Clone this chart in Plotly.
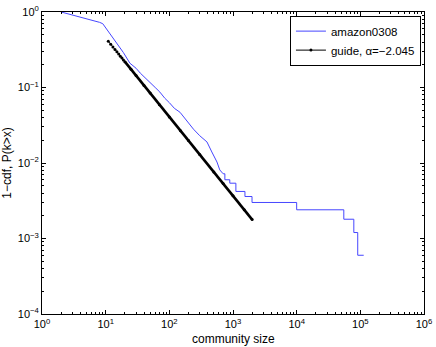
import plotly.graph_objects as go

# ----------------------------------------------------------------------------
# Données (CCDF des tailles de communautés, amazon0308)
# ----------------------------------------------------------------------------

amazon_x = [2, 3, 4, 5, 6, 7, 8, 9, 10, 12, 15, 19, 24, 30, 35, 42, 50, 60, 71,
            85, 100, 120, 147, 170, 195, 240, 300, 390, 465, 560, 620,
            700, 745, 745, 890, 890, 1110, 1110, 1540, 1540, 1990, 1990,
            10000, 10000, 55000, 55000, 79000, 79000, 91000, 91000, 113000]
amazon_y = [1.0, 0.916, 0.857, 0.815, 0.78, 0.757, 0.73, 0.70, 0.62, 0.49, 0.38,
            0.29, 0.21, 0.18, 0.155, 0.135, 0.118, 0.10, 0.087, 0.072, 0.063,
            0.053, 0.047, 0.040, 0.034, 0.028, 0.023, 0.019, 0.014, 0.0103,
            0.0081, 0.0072, 0.0072, 0.0060, 0.0060, 0.0054, 0.0054, 0.0042,
            0.0042, 0.0036, 0.0036, 0.0030, 0.0030, 0.0024, 0.0024, 0.0018,
            0.0018, 0.0012, 0.0012, 0.0006, 0.0006]

guide_x = [11, 12, 13, 14, 15, 16, 17, 18, 19, 20, 25, 30, 40, 50, 70, 100,
           150, 200, 300, 500, 700, 1000, 1500, 2000]
guide_y = [0.41, 0.374, 0.344, 0.319, 0.297, 0.277, 0.260, 0.245, 0.232, 0.220,
           0.174, 0.144, 0.106, 0.0843, 0.0593, 0.0408, 0.0267, 0.0198, 0.0130,
           0.00759, 0.00534, 0.00368, 0.00241, 0.00178]

x_ticks = [1, 10, 100, 1e3, 1e4, 1e5, 1e6]
x_labels = ["10<sup>0</sup>", "10<sup>1</sup>", "10<sup>2</sup>", "10<sup>3</sup>",
            "10<sup>4</sup>", "10<sup>5</sup>", "10<sup>6</sup>"]
y_ticks = [1e-4, 1e-3, 1e-2, 1e-1, 1]
y_labels = ["10<sup>\u22124</sup>", "10<sup>\u22123</sup>", "10<sup>\u22122</sup>",
            "10<sup>\u22121</sup>", "10<sup>0</sup>"]

FONT = "Liberation Sans, Arial, sans-serif"


def minor_ticks(lo, hi):
    return [m * 10 ** e for e in range(lo, hi) for m in range(2, 10)]


fig = go.Figure()

fig.add_trace(go.Scatter(
    x=amazon_x, y=amazon_y, mode="lines", name="amazon0308",
    line=dict(color="rgb(70,70,255)", width=1),
))

# trait épais de la droite guide (points très serrés dans l'original)
fig.add_trace(go.Scatter(
    x=guide_x[9:], y=guide_y[9:], mode="lines", showlegend=False,
    line=dict(color="black", width=2.6),
))
fig.add_trace(go.Scatter(
    x=guide_x, y=guide_y, mode="lines+markers", name="guide, \u03b1=\u22122.045",
    line=dict(color="black", width=1),
    marker=dict(color="black", size=3),
))

axis_common = dict(
    type="log", showgrid=False, zeroline=False, automargin=False,
    showline=True, linecolor="black", linewidth=1, mirror="ticks",
    ticks="inside", ticklen=4, tickcolor="black", tickmode="array",
    tickfont=dict(family=FONT, size=11, color="black"),
)

fig.update_xaxes(
    **axis_common, range=[0, 6], tickvals=x_ticks, ticktext=x_labels,
    minor=dict(ticks="inside", ticklen=2, tickcolor="black", tickvals=minor_ticks(0, 6)),
)
fig.update_yaxes(
    **axis_common, range=[-4, 0], tickvals=y_ticks, ticktext=y_labels,
    minor=dict(ticks="inside", ticklen=2, tickcolor="black", tickvals=minor_ticks(-4, 0)),
    title=dict(text="1\u2212cdf, P(k>x)", font=dict(family=FONT, size=12, color="black")),
)

fig.update_layout(
    width=436, height=347,
    margin=dict(l=42, r=12, t=12, b=33),
    paper_bgcolor="white", plot_bgcolor="white",
    font=dict(family=FONT, size=12, color="black"),
    legend=dict(
        x=0.992, y=0.988, xanchor="right", yanchor="top",
        bordercolor="black", borderwidth=1, bgcolor="white",
        font=dict(family=FONT, size=11.5, color="black"),
        tracegroupgap=0, itemwidth=30,
    ),
    # titre de l'axe x placé à la main
    annotations=[dict(
        text="community size", xref="paper", yref="paper", x=0.5, y=0,
        yshift=-16, xanchor="center", yanchor="top", showarrow=False,
        font=dict(family=FONT, size=12, color="black"),
    )],
)

# la page a une marge de 8 px par défaut : on la supprime
fig.write_html("out.html", config={"displayModeBar": False},
               post_script="document.body.style.margin='0';")
